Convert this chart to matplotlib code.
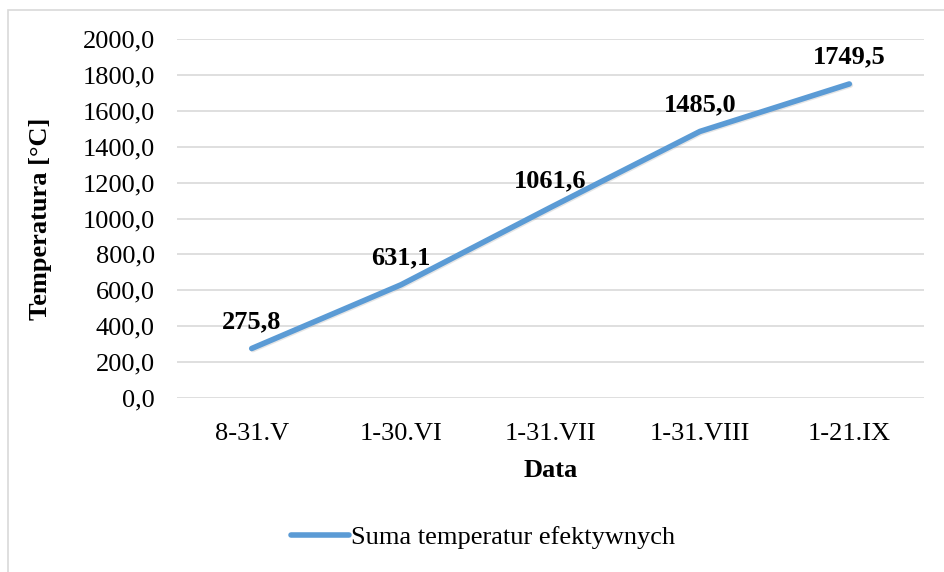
"""
Suma temperatur efektywnych - line chart
"""
import matplotlib
matplotlib.use("Agg")
import matplotlib.pyplot as plt
import matplotlib.patheffects as pe
from matplotlib.patches import Rectangle

################################################################################
# Data
################################################################################
CATEGORIES  = ["8-31.V", "1-30.VI", "1-31.VII", "1-31.VIII", "1-21.IX"]
VALUES      = [275.8, 631.1, 1061.6, 1485.0, 1749.5]
SERIES_NAME = "Suma temperatur efektywnych"
Y_TICKS     = [0, 200, 400, 600, 800, 1000, 1200, 1400, 1600, 1800, 2000]

LINE_COLOR  = "#5B9BD5"
GRID_COLOR  = "#D9D9D9"
FS          = 19

def fmt(v):
    return f"{v:.1f}".replace(".", ",")

################################################################################
# Figure
################################################################################
plt.rcParams["font.family"] = ["Liberation Serif", "DejaVu Serif"]

fig = plt.figure(figsize = (9.45, 5.72), dpi = 100)
ax  = fig.add_axes([177 / 945, 1 - 398 / 572, 747 / 945, 359 / 572])

x = list(range(len(CATEGORIES)))
line, = ax.plot(x, VALUES, color = LINE_COLOR, lw = 4.0,
                solid_joinstyle = "round", solid_capstyle = "round",
                label = SERIES_NAME, zorder = 3)
line.set_path_effects([
    pe.SimpleLineShadow(offset = (0.8, -0.8), shadow_color = "gray", alpha = 0.2),
    pe.Normal()])

for xi, v in zip(x, VALUES):
    ax.annotate(fmt(v), (xi, v), xytext = (0, 11), textcoords = "offset points",
                ha = "center", va = "bottom", fontsize = FS, fontweight = "bold")

ax.set_xlim(-0.5, len(CATEGORIES) - 0.5)
ax.set_ylim(0, 2000)
ax.set_xticks(x)
ax.set_xticklabels(CATEGORIES, fontsize = FS)
ax.set_yticks(Y_TICKS)
ax.set_yticklabels([fmt(t) for t in Y_TICKS], fontsize = FS)
ax.tick_params(length = 0, pad = 16)
ax.tick_params(axis = "x", pad = 18)

ax.grid(axis = "y", color = GRID_COLOR, lw = 1.2)
ax.set_axisbelow(True)
for sp in ax.spines.values():
    sp.set_visible(False)

ax.set_xlabel("Data", fontsize = FS, fontweight = "bold", labelpad = 10)
ax.set_ylabel("Temperatura [°C]", fontsize = FS, fontweight = "bold", labelpad = 22)

leg = fig.legend(handles = [line], loc = "center", bbox_to_anchor = (483 / 945, 1 - 537 / 572),
                 frameon = False, fontsize = FS, handlelength = 2.2, handletextpad = 0.05)
leg.get_lines()[0].set_path_effects([pe.Normal()])

fig.patches.append(Rectangle((8 / 945, -0.1), 1.1, 1.1 - 10 / 572,
                             transform = fig.transFigure, fill = False,
                             edgecolor = GRID_COLOR, lw = 1.2))

fig.savefig("out.png", dpi = 100)
